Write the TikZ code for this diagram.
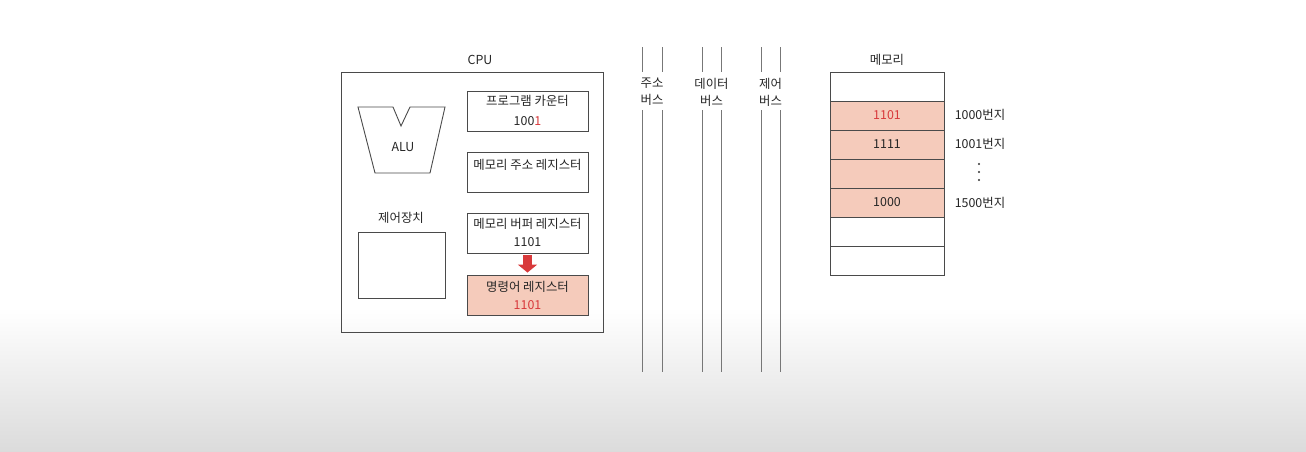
\documentclass[tikz,border=0pt]{standalone}
\usepackage{fontspec}
\setmainfont{Noto Sans CJK KR}
\usetikzlibrary{arrows.meta}
\definecolor{cellfill}{HTML}{F5CBBB}
\definecolor{valred}{HTML}{D8393B}
\definecolor{linegray}{HTML}{4A4A4A}

\begin{document}
\begin{tikzpicture}[x=1pt,y=-1pt,
        box/.style={rectangle,draw=linegray,line width=0.9pt,inner sep=0pt},
        reg/.style={box,minimum width=121pt,minimum height=40pt},
        cell/.style={box,minimum width=114pt,minimum height=29pt},
        lbl/.style={font=\fontsize{12.4}{17}\selectfont,text=black!85,inner sep=1pt},
        bus/.style={draw=linegray!75,line width=0.8pt}]

            % screen background
            \fill[white] (0,0) rectangle (1306,451);
            \shade[top color=white,bottom color=black!14] (0,308) rectangle (1306,451);
            \useasboundingbox (0,0) rectangle (1306,451);

            % CPU
            \node[box,minimum width=262pt,minimum height=260pt] (cpu) at (472,202) {};
            \node[lbl] (cputxt) at (480,60) {CPU};

            \draw[linegray,line width=0.9pt] (358,107) -- (393,107) -- (401,126) -- (410,107)
                -- (445,107) -- (430,173) -- (375,173) -- cycle;
            \node[lbl] (alu) at (403,147) {ALU};

            \node[lbl] (cutxt) at (401,218) {제어장치};
            \node[box,minimum width=87pt,minimum height=66pt] (cu) at (401.5,265) {};

            \node[reg] (pc) at (527.5,111) {};
            \node[lbl] (pctxt) at (527.5,101) {프로그램 카운터};
            \node[lbl] (pcval) at (527.5,121) {100\textcolor{valred}{1}};

            \node[reg] (mar) at (527.5,172) {};
            \node[lbl] (martxt) at (527.5,165) {메모리 주소 레지스터};

            \node[reg] (mbr) at (527.5,233) {};
            \node[lbl] (mbrtxt) at (527.5,224) {메모리 버퍼 레지스터};
            \node[lbl] (mbrval) at (527.5,242) {1101};

            \node[reg,fill=cellfill] (ir) at (527.5,295) {};
            \node[lbl] (irtxt) at (527.5,287) {명령어 레지스터};
            \node[lbl,text=valred] (irval) at (527.5,305) {1101};

            \draw[valred,line width=9pt,-{Triangle[width=19pt,length=8pt]}]
                ([yshift=-2pt]mbr.south) -- ([yshift=2pt]ir.north);

            % buses
            \foreach \x in {642,662,702,721,761,780} {
                \draw[bus] (\x,47) -- (\x,72);
                \draw[bus] (\x,110) -- (\x,372);
            }
            \node[lbl,align=center] (abus) at (652,92) {주소\\버스};
            \node[lbl,align=center] (dbus) at (711.5,92) {데이터\\버스};
            \node[lbl,align=center] (cbus) at (770.5,92) {제어\\버스};

            % memory
            \node[lbl] (memtxt) at (887,60) {메모리};
            \foreach \i in {1,...,7} {
                \ifnum\i>1 \ifnum\i<6
                    \node[cell,fill=cellfill] (m\i) at (887,{57.5+29*\i}) {};
                \else
                    \node[cell] (m\i) at (887,{57.5+29*\i}) {};
                \fi \else
                    \node[cell] (m\i) at (887,{57.5+29*\i}) {};
                \fi
            }
            \node[lbl,text=valred] at (m2) {1101};
            \node[lbl] at (m3) {1111};
            \node[lbl] at (m5) {1000};

            \node[lbl] (a1000) at (980,115) {1000번지};
            \node[lbl] (a1001) at (980,144) {1001번지};
            \foreach \y in {164,172,180}
                \fill[black!80] (979,\y) circle (1.1pt);
            \node[lbl] (a1500) at (980,203) {1500번지};
\end{tikzpicture}
\end{document}
